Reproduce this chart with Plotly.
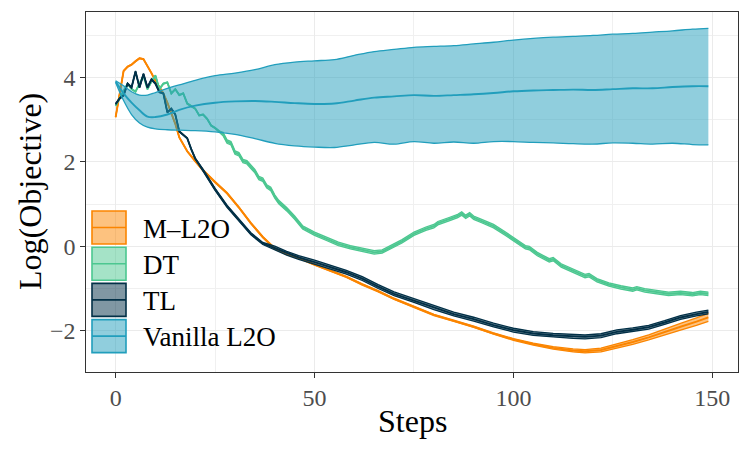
import plotly.graph_objects as go

# ---------------- data ----------------
methods = ["M\u2013L2O", "DT", "TL", "Vanilla L2O"]
colors = ["#FB8500", "#4CC790", "#023047", "#219EBC"]

# M-L2O
mlo_steps = [0,1,2,3,4,5,6,7,8,9,10,11,12,13,14,15,16,17,18,20,22,25,28,31,34,37,40,43,46,50,54,58,62,66,70,75,80,85,90,95,100,105,110,115,118,122,126,130,134,138,142,146,149]
mlo_mean = [3.06,3.65,4.15,4.25,4.30,4.38,4.45,4.43,4.28,4.10,3.92,3.78,3.62,3.40,3.15,2.90,2.58,2.40,2.25,2.02,1.80,1.52,1.26,0.92,0.55,0.22,-0.05,-0.18,-0.27,-0.43,-0.57,-0.72,-0.90,-1.06,-1.24,-1.43,-1.62,-1.76,-1.90,-2.06,-2.20,-2.31,-2.40,-2.46,-2.48,-2.45,-2.36,-2.26,-2.15,-2.02,-1.90,-1.78,-1.68]
mlo_half = [0.01]*19 + [0.015]*21 + [0.02,0.025,0.03,0.035,0.04,0.045,0.05,0.055,0.06,0.07,0.08,0.09,0.095]

# DT
dt_steps = [0,1,2,3,4,5,6,7,8,9,10,11,12,13,14,15,16,17,18,19,20,21,22,23,24,25,26,27,28,29,30,31,32,33,34,35,36,37,38,39,40,41,43,45,47,50,53,56,59,62,65,67,69,70,72,75,78,80,81,84,86,87,88,89,90,92,95,98,100,103,104,106,109,110,112,115,118,119,121,124,127,130,131,133,136,139,142,145,147,149]
dt_mean = [3.33,3.50,3.70,3.85,3.72,3.66,3.85,4.04,3.72,3.90,4.04,3.72,3.85,3.88,3.62,3.72,3.58,3.62,3.38,3.32,3.26,3.10,3.12,3.02,2.86,2.80,2.72,2.66,2.48,2.44,2.22,2.18,2.02,1.99,1.88,1.78,1.62,1.58,1.42,1.36,1.18,1.05,0.88,0.68,0.45,0.30,0.18,0.06,-0.02,-0.08,-0.14,-0.12,-0.03,0.02,0.12,0.30,0.42,0.48,0.55,0.65,0.72,0.78,0.70,0.76,0.68,0.60,0.48,0.30,0.18,-0.02,-0.04,-0.18,-0.33,-0.30,-0.45,-0.58,-0.70,-0.68,-0.80,-0.90,-0.97,-1.02,-0.99,-1.04,-1.08,-1.12,-1.10,-1.13,-1.10,-1.12]
dt_half = [0.01]*27 + [0.04]*63

# TL
tl_steps = [0,1,2,3,4,5,6,7,8,9,10,11,12,13,14,15,16,17,18,19,20,22,25,28,31,34,37,40,43,46,50,54,58,62,66,70,75,80,85,90,95,100,105,110,115,118,122,126,130,134,138,142,146,149]
tl_mean = [3.37,3.50,3.57,3.85,3.76,4.14,3.76,4.08,3.76,3.95,3.85,3.65,3.62,3.17,3.26,3.12,2.72,2.63,2.56,2.30,2.08,1.80,1.35,0.95,0.62,0.30,0.07,-0.04,-0.16,-0.26,-0.37,-0.49,-0.61,-0.76,-0.95,-1.12,-1.28,-1.45,-1.60,-1.72,-1.86,-1.98,-2.06,-2.10,-2.13,-2.14,-2.11,-2.02,-1.97,-1.91,-1.80,-1.68,-1.60,-1.55]
tl_half = [0.01]*21 + [0.025]*6 + [0.045]*27

# Vanilla L2O
van_steps = [0,2,4,6,8,10,13,16,20,25,30,35,40,45,50,55,60,65,70,75,80,85,90,95,100,105,110,115,120,125,130,135,140,145,149]
van_mean = [3.90,3.62,3.40,3.22,3.07,3.06,3.12,3.23,3.33,3.40,3.43,3.44,3.42,3.39,3.37,3.38,3.45,3.52,3.55,3.58,3.56,3.58,3.60,3.63,3.67,3.69,3.70,3.71,3.70,3.72,3.74,3.74,3.77,3.79,3.79]
van_upper = [3.92,3.80,3.66,3.58,3.58,3.64,3.74,3.82,3.93,4.04,4.10,4.18,4.30,4.36,4.39,4.42,4.52,4.61,4.66,4.71,4.73,4.75,4.79,4.83,4.88,4.92,4.95,4.97,4.99,5.02,5.04,5.07,5.10,5.14,5.16]
van_lower = [3.88,3.45,3.12,2.92,2.82,2.78,2.76,2.75,2.74,2.71,2.65,2.55,2.44,2.38,2.35,2.34,2.40,2.46,2.42,2.48,2.44,2.47,2.44,2.48,2.48,2.46,2.45,2.43,2.42,2.45,2.44,2.42,2.44,2.41,2.40]

x_ticks = [0, 50, 100, 150]
y_ticks = [-2, 0, 2, 4]

# ---------------- layout geometry (pixels) ----------------
W, H = 750, 450
ML, MR, MT, MB = 86, 12, 12, 78
PW, PH = W - ML - MR, H - MT - MB
FONT = "Liberation Serif"


def px(x):
    return (x - ML) / PW


def py(y):
    return 1 - (y - MT) / PH


def rgba(hexc, a):
    h = hexc.lstrip("#")
    r, g, b = int(h[0:2], 16), int(h[2:4], 16), int(h[4:6], 16)
    return f"rgba({r},{g},{b},{a})"


fig = go.Figure()


def add_band(steps, lower, upper, mean, color, shape="linear"):
    lw_b = 1.3
    fig.add_trace(go.Scatter(x=steps, y=lower, mode="lines", showlegend=False,
                             line=dict(color=color, width=lw_b, shape=shape), hoverinfo="skip"))
    fig.add_trace(go.Scatter(x=steps, y=upper, mode="lines", showlegend=False, fill="tonexty",
                             fillcolor=rgba(color, 0.5),
                             line=dict(color=color, width=lw_b, shape=shape), hoverinfo="skip"))
    fig.add_trace(go.Scatter(x=steps, y=mean, mode="lines", showlegend=False,
                             line=dict(color=color, width=1.9, shape=shape)))


series = [
    (mlo_steps, mlo_mean, mlo_half),
    (dt_steps, dt_mean, dt_half),
    (tl_steps, tl_mean, tl_half),
]
for (st, mn, hf), col in zip(series, colors[:3]):
    lo = [m - h for m, h in zip(mn, hf)]
    up = [m + h for m, h in zip(mn, hf)]
    add_band(st, lo, up, mn, col)

add_band(van_steps, van_lower, van_upper, van_mean, colors[3], shape="spline")

# ---------------- manual legend (ggplot-like keys) ----------------
shapes = []
annotations = []
key_x0, key_x1 = 92, 126
key_top0, key_h, key_gap = 211, 33, 3.2
for i, (name, col) in enumerate(zip(methods, colors)):
    y0 = key_top0 + i * (key_h + key_gap)
    y1 = y0 + key_h
    shapes.append(dict(type="rect", xref="paper", yref="paper",
                       x0=px(key_x0), x1=px(key_x1), y0=py(y1), y1=py(y0),
                       fillcolor=rgba(col, 0.5), line=dict(color=col, width=1.6), layer="above"))
    ym = (y0 + y1) / 2
    shapes.append(dict(type="line", xref="paper", yref="paper",
                       x0=px(key_x0), x1=px(key_x1), y0=py(ym), y1=py(ym),
                       line=dict(color=col, width=1.6), layer="above"))
    annotations.append(dict(text=name, xref="paper", yref="paper", x=px(141), y=py(ym + 1),
                            xanchor="left", yanchor="middle", showarrow=False,
                            font=dict(family=FONT, size=27, color="black")))

# axis titles
annotations.append(dict(text="Steps", xref="paper", yref="paper", x=px((ML + W - MR) / 2), y=py(421),
                        xanchor="center", yanchor="middle", showarrow=False,
                        font=dict(family=FONT, size=32, color="black")))
annotations.append(dict(text="Log(Objective)", xref="paper", yref="paper", x=px(30), y=py((MT + H - MB) / 2),
                        xanchor="center", yanchor="middle", showarrow=False, textangle=-90,
                        font=dict(family=FONT, size=32, color="black")))

axis_common = dict(
    showline=True, mirror=True, linecolor="#333333", linewidth=1.3,
    ticks="outside", ticklen=4.5, tickwidth=1.1, tickcolor="#333333",
    showgrid=True, gridcolor="#EBEBEB", gridwidth=1.2, zeroline=False,
    tickfont=dict(family=FONT, size=24, color="#4D4D4D"),
)

fig.update_layout(
    width=W, height=H,
    margin=dict(l=ML, r=MR, t=MT, b=MB),
    paper_bgcolor="white", plot_bgcolor="white",
    showlegend=False,
    xaxis=dict(range=[-7.45, 156.45], tickmode="array", tickvals=x_ticks,
               minor=dict(tickmode="linear", tick0=0, dtick=25, showgrid=True,
                          gridcolor="#F0F0F0", gridwidth=0.7, ticks=""),
               **axis_common),
    yaxis=dict(range=[-2.97, 5.545], tickmode="array", tickvals=y_ticks,
               minor=dict(tickmode="linear", tick0=0, dtick=1, showgrid=True,
                          gridcolor="#F0F0F0", gridwidth=0.7, ticks=""),
               **axis_common),
    shapes=shapes,
    annotations=annotations,
)

fig.write_html("out.html")
